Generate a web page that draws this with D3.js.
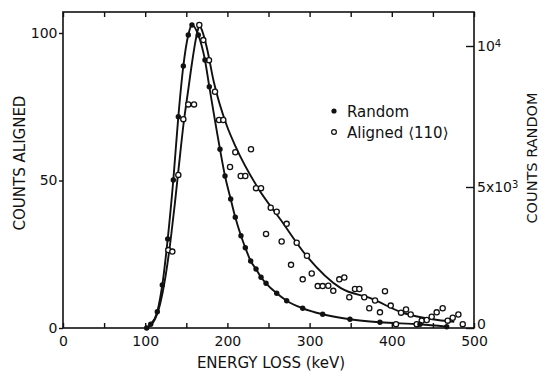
<!DOCTYPE html>
<html><head><meta charset="utf-8">
<script src="https://cdn.jsdelivr.net/npm/d3@7"></script>
<style>
html,body{margin:0;padding:0;background:#fff;}
svg text{font-family:"DejaVu Sans",sans-serif;fill:#111;}
</style></head>
<body><svg id="c" width="538" height="372"></svg>
<script>
// Energy loss (keV) and counts for Random (right axis, counts)
const randomE = [101.8,106.7,114.7,120.8,127.4,134.2,140.3,146.4,152.4,156.9,164.6,172.7,178,191,197.1,204,209.6,216.5,221.8,228.3,234.8,240.9,247,260,272.1,291.6,315.9,349.1,385.6,434.3,466.8];
const randomCounts = [0,131,578,1525,3156,5248,7493,9291,10390,10745,10390,9503,8557,6337,5390,4574,3925,3273,2847,2376,2092,1798,1585,1230,968,699,486,308,202,131,46];
// Aligned <110> (left axis, counts)
const alignedE = [128.1,133,140.3,146.4,152.4,159.4,165.8,170.7,177.6,184.9,189.8,195,203.2,209.6,216.2,221.8,228.7,234.8,240.9,247,252.7,260,266,272.1,277.4,284.3,291.6,296.8,302.6,309.9,315.9,322.7,328.8,336.1,342.2,348.3,355.2,360.5,366.5,372.6,379.6,385.6,391.7,398.7,405.1,411.2,417.3,423,430.3,436.4,442.5,448.5,454.6,461.9,468,474.1,481,486.3];
const alignedCounts = [26.4,25.9,51.9,70.8,75.8,75.8,102.7,97.6,90.8,80.1,70.5,70.5,54.6,59.6,51.5,51.5,60.6,47.4,47.4,31.9,40.8,39.4,29.3,35.3,21.4,28.9,16.5,24.5,18.5,14.2,14.2,14.3,12.6,16.5,17.1,10.4,13.2,13.2,10.4,6.7,9.3,5.3,12.5,7.6,1.3,5.2,6.3,4.6,1.3,2.5,2.7,3.8,5.3,6.7,2.5,3.5,4.6,1.3];
// Smooth fitted curve through the aligned data
const alignedFitE = [102,110,118,125,131,136,141,147,152,157,161,164,166,169,175,183,199,210,236,265,297,338,374,415,456,476];
const alignedFitCounts = [0,2,8,18,30,42,55,70,80,90,97,101,102.5,101,95,84,68.8,61.5,48,36.6,24.2,13.5,10.1,5.0,2.7,2.1];

const xTicks = [0,50,100,150,200,250,300,350,400,450,500];
const leftTicks = [0,50,100];
const rightTicks = [0,5000,10000];
const rightLabels = [["0",""],["5x10","3"],["10","4"]];

const svg = d3.select("#c");
const L=63,R=474,T=12,B=328;
const x = d3.scaleLinear([0,500],[L,R]);
const yL = d3.scaleLinear([0,100],[B,33]);
const yR = d3.scaleLinear([0,10000],[B,46]);

// frame
svg.append("rect").attr("x",L).attr("y",T).attr("width",R-L).attr("height",B-T)
  .attr("fill","none").attr("stroke","#111").attr("stroke-width",1.6);

function clean(g){g.select(".domain").remove();g.selectAll("line").attr("stroke","#111").attr("stroke-width",1.4);}

svg.append("g").attr("transform",`translate(0,${B})`)
  .call(d3.axisBottom(x).tickValues(xTicks).tickSizeInner(-5).tickSizeOuter(0).tickPadding(8)
    .tickFormat(d=>d%100===0?d:""))
  .call(clean).call(g=>g.selectAll("text").style("font-size","14px").attr("fill","#111"));

svg.append("g").attr("transform",`translate(0,${T})`)
  .call(d3.axisTop(x).tickValues(xTicks).tickSizeInner(-5).tickSizeOuter(0).tickFormat(""))
  .call(clean);

svg.append("g").attr("transform",`translate(${L},0)`)
  .call(d3.axisLeft(yL).tickValues(leftTicks).tickSizeInner(4).tickSizeOuter(0).tickPadding(1.5))
  .call(clean).call(g=>g.selectAll("text").style("font-size","14px").attr("fill","#111"));

svg.append("g").attr("transform",`translate(${R},0)`)
  .call(d3.axisRight(yR).tickValues(rightTicks).tickSizeInner(-8).tickSizeOuter(0).tickFormat(""))
  .call(clean);

const rl = svg.append("g");
rightTicks.forEach((v,i)=>{
  const t = rl.append("text").attr("x",477).attr("y",yR(v) - (v===0?4:0)).attr("dy","0.36em").style("font-size","14px");
  t.append("tspan").text(rightLabels[i][0]);
  if(rightLabels[i][1]) t.append("tspan").attr("dy","-0.45em").style("font-size","10px").text(rightLabels[i][1]);
});

// titles
svg.append("text").attr("x",271).attr("y",367.5).attr("text-anchor","middle").style("font-size","15px").text("ENERGY LOSS (keV)");
svg.append("text").attr("transform","translate(24.5,163) rotate(-90)").attr("text-anchor","middle").style("font-size","15px").text("COUNTS ALIGNED");
svg.append("text").attr("transform","translate(536.5,158) rotate(-90)").attr("text-anchor","middle").style("font-size","14.5px").text("COUNTS RANDOM");

// curves
const randomData = randomE.map((e,i)=>({e,v:randomCounts[i]}));
const alignedData = alignedE.map((e,i)=>({e,v:alignedCounts[i]}));
const fitData = alignedFitE.map((e,i)=>({e,v:alignedFitCounts[i]}));

svg.append("path").datum(randomData).attr("fill","none").attr("stroke","#111").attr("stroke-width",1.9)
  .attr("d",d3.line().x(d=>x(d.e)).y(d=>yR(d.v)).curve(d3.curveMonotoneX));
svg.append("path").datum(fitData).attr("fill","none").attr("stroke","#111").attr("stroke-width",1.9)
  .attr("d",d3.line().x(d=>x(d.e)).y(d=>yL(d.v)).curve(d3.curveMonotoneX));

svg.append("g").selectAll("circle").data(alignedData).join("circle")
  .attr("cx",d=>x(d.e)).attr("cy",d=>yL(d.v)).attr("r",2.6)
  .attr("fill","#fff").attr("stroke","#111").attr("stroke-width",1.3);
svg.append("g").selectAll("circle").data(randomData).join("circle")
  .attr("cx",d=>x(d.e)).attr("cy",d=>yR(d.v)).attr("r",2.7).attr("fill","#111");

// legend
const lg = svg.append("g");
lg.append("circle").attr("cx",334).attr("cy",111).attr("r",2.6).attr("fill","#111");
lg.append("circle").attr("cx",334).attr("cy",132).attr("r",2.4).attr("fill","#fff").attr("stroke","#111").attr("stroke-width",1.2);
lg.append("text").attr("x",347).attr("y",116.5).style("font-size","15px").text("Random");
lg.append("text").attr("x",347).attr("y",137.5).style("font-size","15px").text("Aligned  \u27E8110\u27E9");
</script></body></html>
